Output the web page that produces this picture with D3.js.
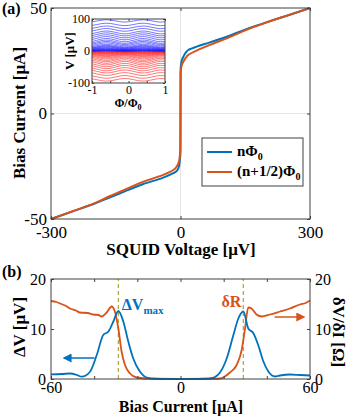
<!DOCTYPE html>
<html>
<head>
<meta charset="utf-8">
<script src="https://cdn.jsdelivr.net/npm/d3@7"></script>
<style>
  body { margin: 0; background: white; }
  text { font-family: "Liberation Serif", "Times New Roman", serif; }
</style>
</head>
<body>
<script>
'use strict';

// ---- panel (a): I-V curves, voltage [uV] vs bias current [uA] ----
const ivVoltBlue = [-300, -250, -200, -163, -140, -86, -40, -16.7, -10, -5, -3, -1.5, -0.3, 0, 0.3, 1.5, 3.5, 6.6, 12, 18, 37.5, 68, 107, 157, 200, 250, 300];
const ivCurrBlue = [-50, -46.4, -42.8, -39.7, -37.8, -33.4, -30.4, -28.3, -27.5, -26, -24.5, -22, -19, 0, 21, 23.5, 25.5, 26.9, 28.8, 30.1, 31.7, 33.7, 36.4, 40.3, 43.3, 46.6, 50];
const ivVoltOrange = [-300, -250, -200, -163, -140, -86, -40, -16.7, -10, -5, -3, -1.5, -0.3, 0, 0.3, 1.5, 3.5, 6.6, 12, 18, 37.5, 68, 107, 157, 200, 250, 300];
const ivCurrOrange = [-50, -46.3, -42.6, -39.1, -37.1, -32.3, -29.1, -26.8, -25.5, -23.6, -22.3, -20, -17.3, 0, 19, 21.5, 23.3, 24.5, 26.4, 27.7, 29.8, 32.5, 35.6, 40, 43.2, 46.6, 50];
const aTicksX = [-300, 0, 300];
const aTicksY = [-50, 0, 50];

// ---- inset: V(phi) family ----
const insetPhi = [-1, -0.875, -0.75, -0.625, -0.5, -0.375, -0.25, -0.125, 0, 0.125, 0.25, 0.375, 0.5, 0.625, 0.75, 0.875, 1];
const insetShape = [-0.8, -0.15, 0.6, 1, 0.8, 0.15, -0.6, -1, -0.8, -0.15, 0.6, 1, 0.8, 0.15, -0.6, -1, -0.8];
const insetOffsetPos = [0.4, 0.9, 1.5, 2.2, 3, 4, 5.2, 6.6, 8.2, 10, 12, 14, 17, 21, 25, 29, 34, 40, 46, 52, 58, 66, 74, 83, 94];
const insetAmpPos = [0.3, 0.5, 0.7, 0.9, 1.1, 1.4, 1.7, 2, 2.4, 2.8, 3.2, 3.6, 4, 4.4, 4.7, 5, 5, 5, 4.8, 4.6, 4.4, 4.2, 4, 3.8, 3.6];
const insetOffsetNeg = [-0.4, -0.9, -1.5, -2.2, -3, -4, -5.2, -6.6, -8.2, -10, -12, -14, -17, -20, -24, -28, -33, -38, -44, -50, -57, -64, -72, -81, -90];
const insetAmpNeg = [0.3, 0.5, 0.7, 0.9, 1.1, 1.4, 1.7, 2, 2.4, 2.8, 3.2, 3.7, 4.2, 4.7, 5.1, 5.4, 5.5, 5.5, 5.3, 5.1, 4.9, 4.6, 4.4, 4.2, 4];
const insetTicksX = [-1, -0.5, 0, 0.5, 1];
const insetLabelsX = [-1, 0, 1];
const insetTicksY = [-100, 0, 100];

// ---- panel (b): modulation depth and differential resistance ----
const dvBias = [-60, -55, -51, -48, -45.8, -42, -38.8, -35.8, -33.4, -31.1, -28.8, -26.5, -24.2, -21.9, -18.8, -15.7, -12, -5, 0, 5, 12, 13.7, 16, 18.3, 21.4, 24.5, 26.8, 29.1, 31.4, 33.7, 36, 38.4, 40.7, 43.8, 46.1, 50.7, 55.4, 60];
const dvValue = [0.94, 1.0, 1.1, 0.8, 0.46, 1.4, 4.8, 8.8, 9.5, 11.5, 13.6, 11.5, 7.5, 4.1, 1.5, 0.3, 0.05, 0, 0, 0, 0.05, 0.1, 0.4, 1.3, 4.1, 8.8, 12.1, 13.5, 10.1, 9.2, 6.8, 3.5, 1.5, 0.5, 0.7, 0.9, 0.8, 0.7];
const drBias = [-60, -57.5, -55.8, -53, -51.2, -48.5, -46.6, -43, -40.4, -38, -36.5, -34.2, -31.9, -30.4, -28.8, -27.3, -25.7, -23.4, -20.3, -14, 0, 14, 18.3, 20.5, 22.9, 26, 28.4, 29.9, 31.4, 32.9, 35.2, 37.6, 41.5, 46.1, 50.7, 55.4, 58, 60];
const drValue = [15.6, 15.4, 15.1, 14.6, 14.1, 13.7, 13.3, 13.2, 12.9, 12.8, 12.5, 13.3, 14.5, 13.5, 10.1, 5.5, 2.8, 1.1, 0.3, 0.05, 0, 0.05, 0.1, 0.5, 1.3, 2.8, 5.9, 10.1, 14.3, 14.1, 12.9, 12.5, 12.9, 13.5, 14.1, 14.9, 15.2, 15.7];
const markerBias = [-28.8, 29.1];
const bTicksX = [-60, -40, -20, 0, 20, 40, 60];
const bLabelsX = [-60, 0, 60];
const bTicksY = [0, 10, 20];

const BLUE = '#0072BD';
const ORANGE = '#D95319';
const AXIS = '#404040';
const SERIF = '"Liberation Serif", "Times New Roman", serif';

let svg = d3.select('body').append('svg')
  .attr('width', 349)
  .attr('height', 417);

// draw MATLAB-like boxed axes with inward ticks
function drawBox(g, xScale, yScale, o) {
  let [x0, x1] = xScale.range();
  let [y0, y1] = yScale.range();
  let fmt = (labels) => (d) => labels.includes(d) ? String(d) : '';

  let axes = [
    g.append('g').attr('transform', `translate(0,${y0})`)
      .call(d3.axisBottom(xScale).tickValues(o.xTicks).tickSizeInner(-o.tick).tickSizeOuter(0)
        .tickPadding(o.padX).tickFormat(fmt(o.xLabels))),
    g.append('g').attr('transform', `translate(0,${y1})`)
      .call(d3.axisTop(xScale).tickValues(o.xTicks).tickSizeInner(-o.tick).tickSizeOuter(0).tickFormat('')),
    g.append('g').attr('transform', `translate(${x0},0)`)
      .call(d3.axisLeft(yScale).tickValues(o.yTicks).tickSizeInner(-o.tick).tickSizeOuter(0)
        .tickPadding(o.padY).tickFormat(fmt(o.yLabels))),
    g.append('g').attr('transform', `translate(${x1},0)`)
      .call(d3.axisRight(yScale).tickValues(o.yTicks).tickSizeInner(-o.tick).tickSizeOuter(0)
        .tickPadding(o.padY).tickFormat(fmt(o.rightLabels || [])))
  ];
  axes.forEach((a) => {
    a.attr('font-family', SERIF).attr('font-size', o.font);
    a.select('.domain').remove();
    a.selectAll('line').attr('stroke', AXIS);
    a.selectAll('text').attr('fill', 'black');
    // drop empty labels so they don't take room
    a.selectAll('text').filter(function() { return this.textContent === ''; }).remove();
  });

  g.append('rect')
    .attr('x', x0).attr('y', y1)
    .attr('width', x1 - x0).attr('height', y0 - y1)
    .attr('fill', 'none')
    .attr('stroke', AXIS)
    .attr('stroke-width', 1);
}

// text with a subscript tail
function subText(g, x, y, main, sub, size, subSize, color, anchor) {
  let t = g.append('text')
    .attr('x', x).attr('y', y)
    .attr('font-size', size)
    .attr('font-weight', 'bold')
    .attr('fill', color)
    .attr('text-anchor', anchor || 'start');
  t.append('tspan').text(main);
  t.append('tspan').attr('font-size', subSize).attr('dy', size * 0.28).text(sub);
  return t;
}

// ================= panel (a) =================
let xA = d3.scaleLinear().domain([-300, 300]).range([51, 310]);
let yA = d3.scaleLinear().domain([-50, 50]).range([219, 8]);
let gA = svg.append('g');

// grid lines
gA.selectAll('.gx').data(aTicksX.slice(1, 2)).enter().append('line')
  .attr('x1', (d) => xA(d)).attr('x2', (d) => xA(d))
  .attr('y1', yA(-50)).attr('y2', yA(50))
  .attr('stroke', '#e3e3e3');
gA.selectAll('.gy').data(aTicksY.slice(1, 2)).enter().append('line')
  .attr('x1', xA(-300)).attr('x2', xA(300))
  .attr('y1', (d) => yA(d)).attr('y2', (d) => yA(d))
  .attr('stroke', '#e3e3e3');

let ivLine = d3.line()
  .x((d) => xA(d[0]))
  .y((d) => yA(d[1]))
  .curve(d3.curveMonotoneY);

gA.append('path')
  .datum(d3.zip(ivVoltBlue, ivCurrBlue))
  .attr('d', ivLine)
  .attr('fill', 'none')
  .attr('stroke', BLUE)
  .attr('stroke-width', 2);
gA.append('path')
  .datum(d3.zip(ivVoltOrange, ivCurrOrange))
  .attr('d', ivLine)
  .attr('fill', 'none')
  .attr('stroke', ORANGE)
  .attr('stroke-width', 2);

drawBox(gA, xA, yA, {
  xTicks: aTicksX, xLabels: aTicksX, yTicks: aTicksY, yLabels: aTicksY,
  tick: 3, padX: 7, padY: 4, font: 17
});

// legend
gA.append('rect')
  .attr('x', 202).attr('y', 138)
  .attr('width', 101).attr('height', 48)
  .attr('fill', 'white')
  .attr('stroke', AXIS);
[[BLUE, 'nΦ', 152], [ORANGE, '(n+1/2)Φ', 172]].forEach((e) => {
  gA.append('line')
    .attr('x1', 207).attr('x2', 232)
    .attr('y1', e[2]).attr('y2', e[2])
    .attr('stroke', e[0]).attr('stroke-width', 2);
  subText(gA, 237, e[2] + 4, e[1], '0', 15, 10, 'black');
});

// labels
svg.append('text')
  .attr('x', 2).attr('y', 14)
  .attr('font-size', 16).attr('font-weight', 'bold')
  .text('(a)');
svg.append('text')
  .attr('x', 181).attr('y', 255)
  .attr('text-anchor', 'middle')
  .attr('font-size', 17).attr('font-weight', 'bold')
  .text('SQUID Voltage [μV]');
svg.append('text')
  .attr('transform', 'translate(25,113)rotate(-90)')
  .attr('text-anchor', 'middle')
  .attr('font-size', 17).attr('font-weight', 'bold')
  .text('Bias Current [μA]');

// ================= inset =================
let xI = d3.scaleLinear().domain([-1, 1]).range([92, 165]);
let yI = d3.scaleLinear().domain([-100, 100]).range([83, 19]);
let gI = svg.append('g');

gI.append('rect')
  .attr('x', 92).attr('y', 19)
  .attr('width', 73).attr('height', 64)
  .attr('fill', 'white');

let insetLine = d3.line()
  .x((d) => xI(d[0]))
  .y((d) => yI(d[1]))
  .curve(d3.curveNatural);

function insetCurves(offsets, amps, sign, color) {
  gI.selectAll(null)
    .data(offsets.map((o, i) => insetPhi.map((p, k) => [p, o + sign * amps[i] * insetShape[k]])))
    .enter()
    .append('path')
    .attr('d', insetLine)
    .attr('fill', 'none')
    .attr('stroke', color)
    .attr('stroke-opacity', 0.85)
    .attr('stroke-width', 0.7);
}
insetCurves(insetOffsetNeg, insetAmpNeg, -1, '#ff1a1a');
insetCurves(insetOffsetPos, insetAmpPos, 1, '#1a1aff');

drawBox(gI, xI, yI, {
  xTicks: insetTicksX, xLabels: insetLabelsX, yTicks: insetTicksY, yLabels: insetTicksY,
  tick: 2, padX: 2, padY: 2, font: 12
});

let phiLabel = gI.append('text')
  .attr('x', 128).attr('y', 107)
  .attr('text-anchor', 'middle')
  .attr('font-size', 12).attr('font-weight', 'bold');
phiLabel.append('tspan').text('Φ/Φ');
phiLabel.append('tspan').attr('font-size', 8).attr('dy', 3).text('0');
gI.append('text')
  .attr('transform', 'translate(74,51)rotate(-90)')
  .attr('text-anchor', 'middle')
  .attr('font-size', 13).attr('font-weight', 'bold')
  .text('V [μV]');

// ================= panel (b) =================
let xB = d3.scaleLinear().domain([-60, 60]).range([51, 310]);
let yBl = d3.scaleLinear().domain([0, 20]).range([379, 279]);
let yBr = d3.scaleLinear().domain([0, 20]).range([379, 279]);
let gB = svg.append('g');

// dashed markers at the maximum modulation
gB.selectAll('.marker')
  .data(markerBias)
  .enter()
  .append('line')
  .attr('x1', (d) => xB(d)).attr('x2', (d) => xB(d))
  .attr('y1', yBl(0)).attr('y2', yBl(20))
  .attr('stroke', '#a8a83a')
  .attr('stroke-width', 1.2)
  .attr('stroke-dasharray', '4,3');

gB.append('path')
  .datum(d3.zip(drBias, drValue))
  .attr('d', d3.line().x((d) => xB(d[0])).y((d) => yBr(d[1])).curve(d3.curveMonotoneX))
  .attr('fill', 'none')
  .attr('stroke', ORANGE)
  .attr('stroke-width', 1.8);
gB.append('path')
  .datum(d3.zip(dvBias, dvValue))
  .attr('d', d3.line().x((d) => xB(d[0])).y((d) => yBl(d[1])).curve(d3.curveMonotoneX))
  .attr('fill', 'none')
  .attr('stroke', BLUE)
  .attr('stroke-width', 1.8);

drawBox(gB, xB, yBl, {
  xTicks: bTicksX, xLabels: bLabelsX, yTicks: bTicksY, yLabels: bTicksY, rightLabels: bTicksY,
  tick: 3, padX: 3, padY: 5, font: 16
});

// arrows pointing to the relevant axis
let defs = svg.append('defs');
[['arrBlue', BLUE], ['arrOrange', ORANGE]].forEach((m) => {
  defs.append('marker')
    .attr('id', m[0])
    .attr('viewBox', '0 0 10 10')
    .attr('refX', 8).attr('refY', 5)
    .attr('markerWidth', 6).attr('markerHeight', 6)
    .attr('orient', 'auto')
    .append('path')
    .attr('d', 'M0,0L10,5L0,10z')
    .attr('fill', m[1]);
});
gB.append('line')
  .attr('x1', xB(-39.8)).attr('x2', xB(-53.8))
  .attr('y1', yBl(4.2)).attr('y2', yBl(4.2))
  .attr('stroke', BLUE).attr('stroke-width', 1.5)
  .attr('marker-end', 'url(#arrBlue)');
gB.append('line')
  .attr('x1', xB(43.6)).attr('x2', xB(57))
  .attr('y1', yBr(12.4)).attr('y2', yBr(12.4))
  .attr('stroke', ORANGE).attr('stroke-width', 1.5)
  .attr('marker-end', 'url(#arrOrange)');

subText(gB, xB(-27.2), yBl(13.8), 'ΔV', 'max', 16, 11, BLUE);
gB.append('text')
  .attr('x', xB(19)).attr('y', yBr(14.4))
  .attr('font-size', 16).attr('font-weight', 'bold')
  .attr('fill', ORANGE)
  .text('δR');

svg.append('text')
  .attr('x', 2).attr('y', 277)
  .attr('font-size', 16).attr('font-weight', 'bold')
  .text('(b)');
svg.append('text')
  .attr('x', 181).attr('y', 412)
  .attr('text-anchor', 'middle')
  .attr('font-size', 16).attr('font-weight', 'bold')
  .text('Bias Current [μA]');
svg.append('text')
  .attr('transform', 'translate(25,327)rotate(-90)')
  .attr('text-anchor', 'middle')
  .attr('font-size', 17).attr('font-weight', 'bold')
  .text('ΔV [μV]');
svg.append('text')
  .attr('transform', 'translate(333,332)rotate(90)')
  .attr('text-anchor', 'middle')
  .attr('font-size', 17).attr('font-weight', 'bold')
  .text('δV/δI [Ω]');
</script>
</body>
</html>
